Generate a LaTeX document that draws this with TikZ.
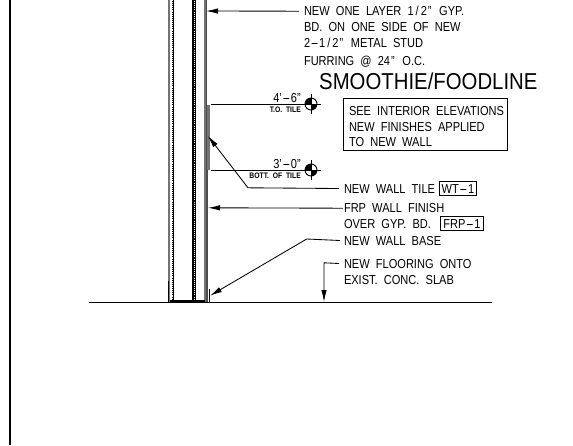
\documentclass[tikz,border=0pt]{standalone}
\usepackage{fontspec}
\usetikzlibrary{arrows.meta}
\setmainfont[WordSpace=2.0,FakeStretch=0.85]{Liberation Sans}
\newfontfamily\titleface[FakeStretch=0.885]{Liberation Sans}
\newcommand\lng{\kern.5pt\scalebox{2.2}[1]{-}\kern.5pt}
\newcommand\hlf{1\kern2pt/\kern2pt2\kern1pt"\kern1.5pt}
\tikzset{
 note/.style={anchor=base west,inner sep=0pt,outer sep=0pt,text height=9pt,text depth=0pt,font=\fontsize{13}{15}\selectfont},
 tagbox/.style={draw,line width=.9pt,anchor=base west,inner sep=0pt,text height=12pt,text depth=2pt,font=\fontsize{13}{15}\selectfont},
 small/.style={anchor=base east,inner sep=0pt,font=\fontsize{8}{9}\bfseries\selectfont},
 level/.style={anchor=base east,inner sep=0pt,font=\fontsize{13}{15}\selectfont},
 leader/.style={line width=.85pt},
 arrowed/.style={leader,-{Latex[length=12pt,width=5.5pt]}},
 wall/.style={line width=.9pt},
 wallg/.style={line width=1.3pt,black!55},
 dots/.style={line width=.9pt,densely dotted},
}
\begin{document}
\begin{tikzpicture}[x=1pt,y=-1pt]
\useasboundingbox (0,0) rectangle (573,445);
% border and floor
\draw[line width=1.1pt] (10,0) -- (10,445);
\coordinate (fl) at (89,302); \coordinate (fr) at (491.5,302);
\draw[line width=1pt] (fl) -- (fr);
% wall
\draw[wallg] (169,0) -- (169,302);
\draw[wall] (168,281) -- (168,302);
\draw[wall] (172,0) -- (172,302);
\draw[dots,white] (172,0) -- (172,302);
\draw[wall] (173.2,0) -- (173.2,302);
\draw[line width=1.2pt] (193,0) -- (193,302);
\draw[dots] (194,0) -- (194,302);
\draw[wall] (195.8,0) -- (195.8,302);
\draw[wallg] (205,0) -- (205,302);
\draw[line width=1pt,black!70] (206.5,0) -- (206.5,302);
\draw[line width=3pt,black!55] (208,105) -- (208,170);
\draw[wall] (209.5,289) -- (209.5,302);
\draw[line width=.8pt,black!70] (207.5,170) -- (207.5,302);
\draw[line width=2pt] (170,300.7) -- (205,300.7);
% targets
\coordinate (t1) at (206,11);
\coordinate (t2) at (208,136);
\coordinate (t3) at (208,207.8);
\coordinate (t4) at (210,295.7);
\coordinate (t5) at (324,302);
\coordinate (e2) at (248,187.8);
\coordinate (e4) at (306.7,239);
\coordinate (e5) at (324,262.8);
% notes
\node[note] (n1) at (304,15.7) {NEW ONE LAYER \hlf{} GYP.};
\node[note] (n1b) at (304,31) {BD. ON ONE SIDE OF NEW};
\node[note] (n1c) at (304,47.7) {2\lng\hlf{} METAL STUD};
\node[note] (n1d) at (304,65) {FURRING @ 24\kern1pt"\kern1.5pt{} O.C.};
\node[anchor=base west,inner sep=0pt,font=\fontsize{23}{26}\titleface\selectfont] (title) at (319,89) {SMOOTHIE/FOODLINE};
\node[draw,line width=.9pt,anchor=north west,inner sep=0pt,minimum width=164pt,minimum height=52pt] (sb) at (342.8,97.7) {};
\node[note] (s1) at (349,115) {SEE INTERIOR ELEVATIONS};
\node[note] (s2) at (349,131.7) {NEW FINISHES APPLIED};
\node[note] (s3) at (349,146.7) {TO NEW WALL};
\node[note] (n2) at (344,193) {NEW WALL TILE};
\node[tagbox,minimum width=36.4pt] (wt) at (439.3,193) {WT\lng1};
\node[note] (n3) at (344,212.7) {FRP WALL FINISH};
\node[note] (n3b) at (344,228) {OVER GYP. BD.};
\node[tagbox,minimum width=43pt] (frp) at (440,228) {FRP\lng1};
\node[note] (n4) at (344,245) {NEW WALL BASE};
\node[note] (n5) at (344,268) {NEW FLOORING ONTO};
\node[note] (n5b) at (344,284) {EXIST. CONC. SLAB};
% leaders
\draw[arrowed] ([xshift=-5pt]n1.west) -- (t1);
\draw[arrowed] ([xshift=-5pt]n2.west) -- (e2) -- (t2);
\draw[arrowed] ([xshift=-1pt]n3.west) -- (t3);
\draw[arrowed] ([xshift=-4pt]n4.west) -- (e4) -- (t4);
\draw[arrowed] ([xshift=-5pt]n5.west) -- (e5) -- (t5);
% level markers
\foreach \nm/\yy/\top/\bot in {a/104/{4'\lng6"}/{T.O. TILE},b/170/{3'\lng0"}/{BOTT. OF TILE}}{
 \coordinate (m\nm) at (311,\yy);
 \draw[leader] (211,\yy) -- (321,\yy);
 \draw[leader] (311,\yy-10) -- (311,\yy+10);
 \draw[line width=.9pt] (m\nm) circle (6pt);
 \fill (m\nm) -- ++(6,0) arc[start angle=0,end angle=-90,radius=6pt] -- cycle;
 \fill (m\nm) -- ++(-6,0) arc[start angle=180,end angle=90,radius=6pt] -- cycle;
 \node[level] (lv\nm) at (301,\yy-2) {\top};
 \node[small] (sm\nm) at (301,\yy+8.5) {\bot};
}
\end{tikzpicture}
\end{document}
